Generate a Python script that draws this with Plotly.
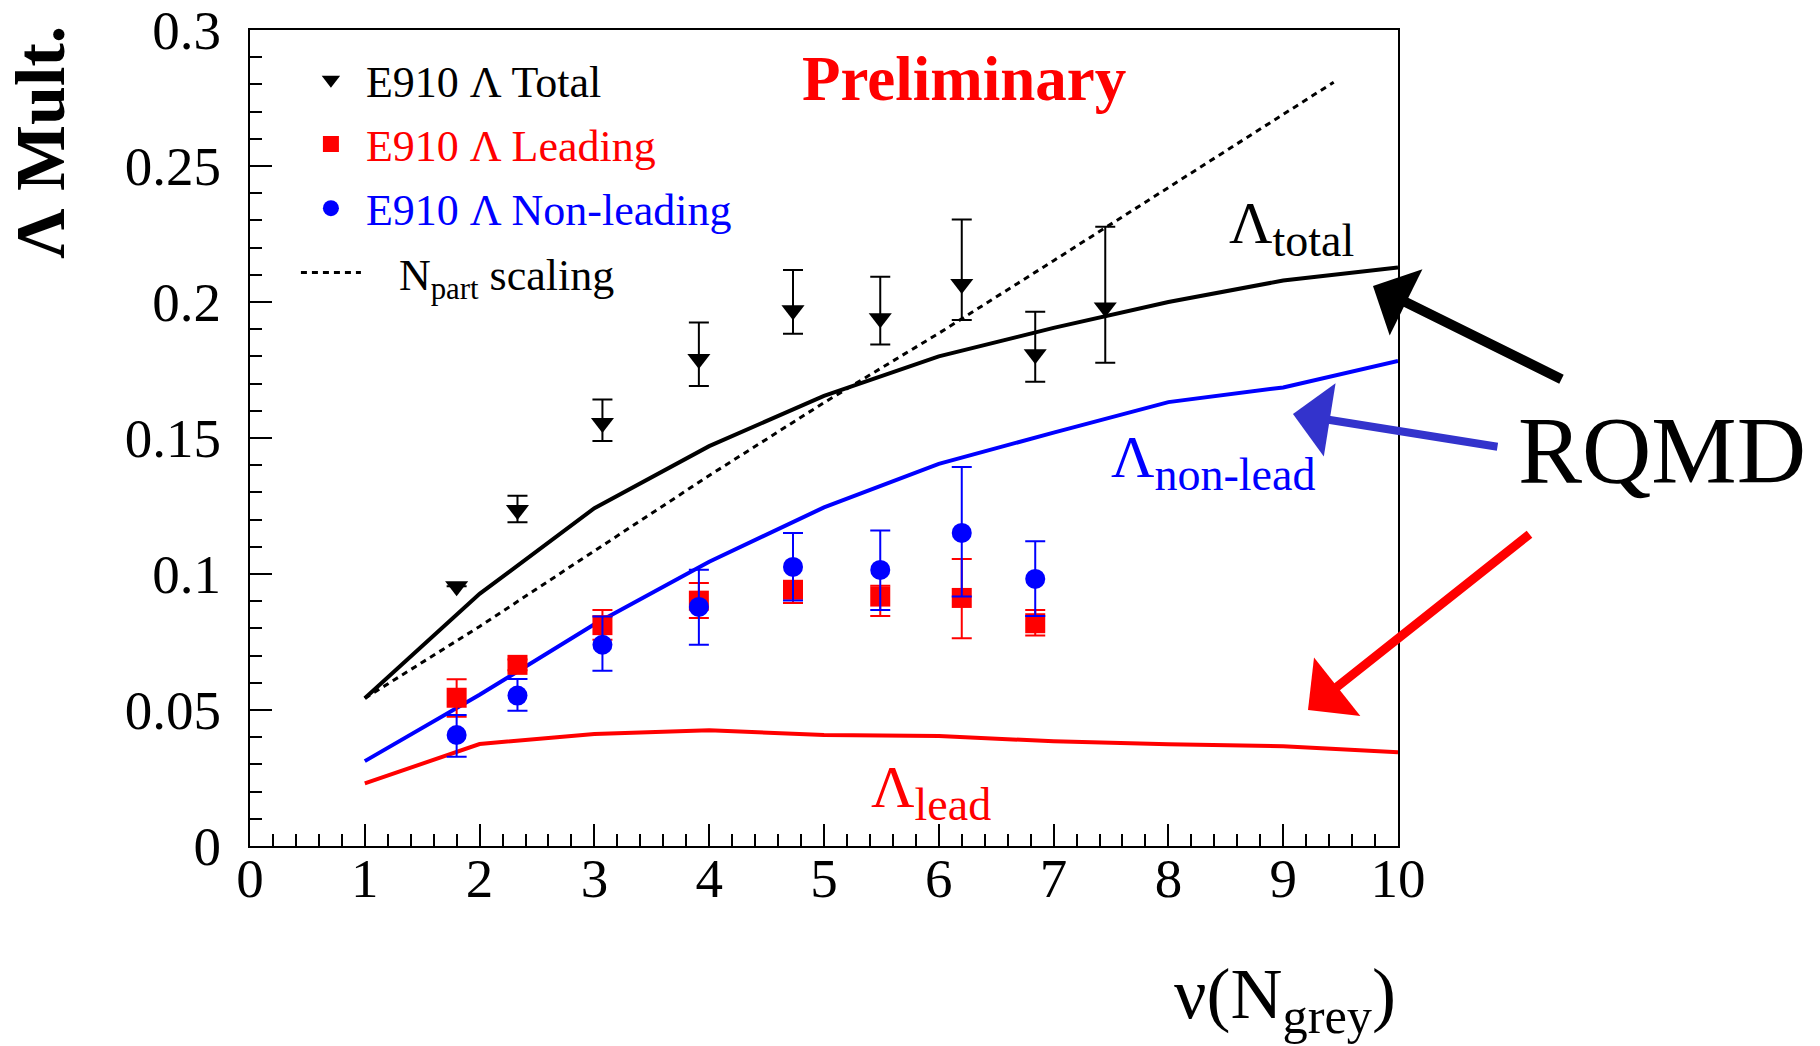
import plotly.graph_objects as go

# ---- E910 measured Lambda multiplicities vs nu(N_grey) ----
nu_total = [1.80, 2.33, 3.07, 3.91, 4.73, 5.49, 6.20, 6.84, 7.45]
lam_total = [0.0955, 0.1235, 0.1555, 0.179, 0.197, 0.194, 0.2066, 0.1808, 0.198]
lam_total_up = [0.0, 0.0053, 0.0087, 0.0135, 0.0148, 0.0153, 0.0237, 0.0156, 0.0297]
lam_total_dn = [0.0, 0.0045, 0.0066, 0.0099, 0.0087, 0.0096, 0.0132, 0.0101, 0.0203]

nu_split = [1.80, 2.33, 3.07, 3.91, 4.73, 5.49, 6.20, 6.84]
lam_lead = [0.0545, 0.0666, 0.0812, 0.0902, 0.0942, 0.0917, 0.0912, 0.0819]
lam_lead_up = [0.0068, 0.002, 0.0056, 0.0065, 0.003, 0.004, 0.0143, 0.0049]
lam_lead_dn = [0.007, 0.002, 0.0054, 0.0064, 0.0049, 0.0071, 0.0148, 0.0045]

lam_nonlead = [0.0408, 0.0553, 0.074, 0.0879, 0.1026, 0.1015, 0.1151, 0.0982]
lam_nonlead_up = [0.0074, 0.0061, 0.0104, 0.0137, 0.0125, 0.0145, 0.0242, 0.0138]
lam_nonlead_dn = [0.008, 0.0056, 0.0096, 0.0139, 0.0123, 0.0147, 0.0234, 0.0136]

# ---- RQMD model curves ----
nu_model = [1, 2, 3, 4, 5, 6, 7, 8, 9, 10]
rqmd_total = [0.0543, 0.0927, 0.1242, 0.147, 0.1655, 0.1800, 0.1905, 0.2000, 0.2079, 0.2127]
rqmd_nonlead = [0.0312, 0.0556, 0.0815, 0.1045, 0.1245, 0.1405, 0.152, 0.1632, 0.1686, 0.1783]
rqmd_lead = [0.023, 0.0375, 0.0412, 0.0426, 0.0408, 0.0404, 0.0385, 0.0374, 0.0367, 0.0345]

# ---- N_part scaling ----
nu_npart = [1, 2, 3, 4, 5, 6, 7, 8, 9, 9.44]
lam_npart = [0.0543, 0.0807, 0.1085, 0.1362, 0.163, 0.1885, 0.2152, 0.2421, 0.2690, 0.2808]

# ---- axis ticks ----
x_tickvals = [0, 1, 2, 3, 4, 5, 6, 7, 8, 9, 10]
x_ticktext = ["0", "1", "2", "3", "4", "5", "6", "7", "8", "9", "10"]
y_tickvals = [0, 0.05, 0.1, 0.15, 0.2, 0.25, 0.3]
y_ticktext = ["0", "0.05", "0.1", "0.15", "0.2", "0.25", "0.3"]

SERIF = "Liberation Serif"
RED = "#ff0000"
BLUE = "#0000ff"
NBSP = "\u00a0"

fig = go.Figure()

# model curves (no legend entries)
fig.add_trace(go.Scatter(x=nu_model, y=rqmd_total, mode="lines",
                         line=dict(color="black", width=4), showlegend=False))
fig.add_trace(go.Scatter(x=nu_model, y=rqmd_nonlead, mode="lines",
                         line=dict(color=BLUE, width=4), showlegend=False))
fig.add_trace(go.Scatter(x=nu_model, y=rqmd_lead, mode="lines",
                         line=dict(color=RED, width=4), showlegend=False))

# measured points
fig.add_trace(go.Scatter(
    x=nu_total, y=lam_total, mode="markers", legendgroup="a",
    name="E910 Λ Total",
    marker=dict(symbol="triangle-down", size=20, color="black"),
    error_y=dict(type="data", symmetric=False, array=lam_total_up,
                 arrayminus=lam_total_dn, color="black", thickness=2, width=10)))
fig.add_trace(go.Scatter(
    x=nu_split, y=lam_lead, mode="markers", legendgroup="b",
    name=f'<span style="color:{RED}">E910 Λ Leading</span>',
    marker=dict(symbol="square", size=20, color=RED),
    error_y=dict(type="data", symmetric=False, array=lam_lead_up,
                 arrayminus=lam_lead_dn, color=RED, thickness=2, width=10)))
fig.add_trace(go.Scatter(
    x=nu_split, y=lam_nonlead, mode="markers", legendgroup="c",
    name=f'<span style="color:{BLUE}">E910 Λ Non-leading</span>',
    marker=dict(symbol="circle", size=20, color=BLUE),
    error_y=dict(type="data", symmetric=False, array=lam_nonlead_up,
                 arrayminus=lam_nonlead_dn, color=BLUE, thickness=2, width=10)))
fig.add_trace(go.Scatter(
    x=nu_npart, y=lam_npart, mode="lines", legendgroup="d",
    name=NBSP * 3 + "N<sub>part</sub> scaling",
    line=dict(color="black", width=3, dash="6px,5px")))

annotations = [
    dict(text="<b>Preliminary</b>", x=0.622, y=0.94, xref="paper", yref="paper",
         showarrow=False, font=dict(family=SERIF, size=63, color=RED),
         xanchor="center", yanchor="middle"),
    dict(text="RQMD", x=1.23, y=0.485, xref="paper", yref="paper",
         showarrow=False, font=dict(family=SERIF, size=96, color="black"),
         xanchor="center", yanchor="middle"),
    dict(text='Λ<sub><span style="font-size:46px">total</span></sub>',
         x=0.851, y=0.708, xref="paper", yref="paper", showarrow=False,
         font=dict(family=SERIF, size=60, color="black"),
         xanchor="left", yanchor="bottom"),
    dict(text='Λ<sub><span style="font-size:46px">non-lead</span></sub>',
         x=0.748, y=0.421, xref="paper", yref="paper", showarrow=False,
         font=dict(family=SERIF, size=60, color=BLUE),
         xanchor="left", yanchor="bottom"),
    dict(text='Λ<sub><span style="font-size:46px">lead</span></sub>',
         x=0.539, y=0.017, xref="paper", yref="paper", showarrow=False,
         font=dict(family=SERIF, size=60, color=RED),
         xanchor="left", yanchor="bottom"),
    # axis titles
    dict(text="<b>Λ Mult.</b>", x=-0.182, y=0.862, xref="paper", yref="paper",
         showarrow=False, textangle=-90,
         font=dict(family=SERIF, size=70, color="black"),
         xanchor="center", yanchor="middle"),
    dict(text="ν(N<sub>grey</sub>)", x=1.0, y=-0.13, xref="paper", yref="paper",
         showarrow=False, font=dict(family=SERIF, size=72, color="black"),
         xanchor="right", yanchor="top"),
    # RQMD pointers
    dict(text="", x=0.9782, y=0.6863, xref="paper", yref="paper",
         showarrow=True, ax=190, ay=94, arrowhead=1, arrowsize=1.23,
         arrowwidth=10, arrowcolor="black", standoff=0, startstandoff=0),
    dict(text="", x=0.9085, y=0.5294, xref="paper", yref="paper",
         showarrow=True, ax=206, ay=33, arrowhead=1, arrowsize=1.55,
         arrowwidth=8, arrowcolor="#3333cc", standoff=0, startstandoff=0),
    dict(text="", x=0.9216, y=0.1667, xref="paper", yref="paper",
         showarrow=True, ax=223, ay=-177, arrowhead=1, arrowsize=1.38,
         arrowwidth=9, arrowcolor=RED, standoff=0, startstandoff=0),
]

axis_common = dict(
    showline=True, mirror=True, linecolor="black", linewidth=2,
    showgrid=False, zeroline=False, ticks="inside", ticklen=22, tickwidth=2,
    tickcolor="black", automargin=False,
    tickfont=dict(family=SERIF, size=55, color="black"),
)

fig.update_layout(
    width=1820, height=1046,
    margin=dict(l=250, r=422, t=30, b=200),
    paper_bgcolor="white", plot_bgcolor="white",
    font=dict(family=SERIF, color="black"),
    xaxis=dict(range=[0, 10], tickvals=x_tickvals, ticktext=x_ticktext,
               ticklabelstandoff=-17,
               minor=dict(dtick=0.2, ticks="inside", ticklen=12, tickwidth=2,
                          tickcolor="black"),
               **axis_common),
    yaxis=dict(range=[0, 0.3], tickvals=y_tickvals, ticktext=y_ticktext,
               ticklabelstandoff=16,
               minor=dict(dtick=0.01, ticks="inside", ticklen=12, tickwidth=2,
                          tickcolor="black"),
               **axis_common),
    legend=dict(x=0.04, y=0.982, xanchor="left", yanchor="top",
                bgcolor="rgba(0,0,0,0)", borderwidth=0, itemwidth=60,
                tracegroupgap=4,
                font=dict(family=SERIF, size=44, color="black")),
    annotations=annotations,
)

fig.write_html("out.html")
